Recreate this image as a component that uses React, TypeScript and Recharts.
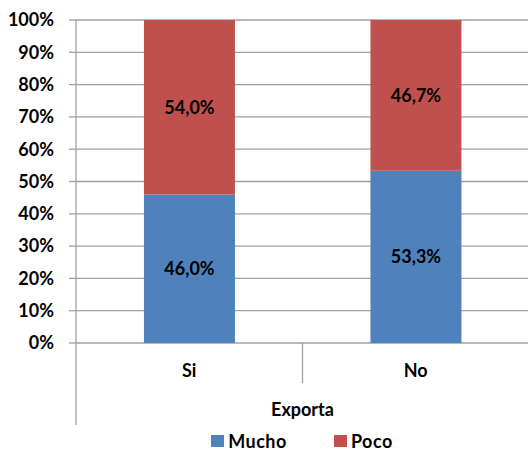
import React from 'react';
import { BarChart, Bar, XAxis, YAxis, CartesianGrid, LabelList, Legend } from 'recharts';

const categories = ['Si', 'No'];
const mucho = [46.0, 53.3];
const poco = [54.0, 46.7];
const yTicks = [0, 10, 20, 30, 40, 50, 60, 70, 80, 90, 100];
const seriesNames = ['Mucho', 'Poco'];
const colors = ['#4F81BD', '#C0504D'];

const data = categories.map((c, i) => ({ name: c, Mucho: mucho[i], Poco: poco[i] }));

const FONT = 'Lato, "Open Sans", sans-serif';
const FS = 18;
const AXIS = '#A0A0A0';

const fmt = (v: number) => v.toFixed(1).replace('.', ',') + '%';

const XTick = (props: any) => {
  const { x, y, payload, index } = props;
  const off = payload.offset || 0;
  const top = y - 8;
  return (
    <g>
      {index === 0 && (
        <line x1={x - off} x2={x - off} y1={top} y2={top + 82} stroke={AXIS} strokeWidth={1.3} />
      )}
      {index < categories.length - 1 && (
        <line x1={x + off} x2={x + off} y1={top} y2={top + 40} stroke={AXIS} strokeWidth={1.3} />
      )}
      <text x={x} y={top + 34} textAnchor="middle" fontFamily={FONT} fontWeight={700} fontSize={FS} fill="#000">
        {payload.value}
      </text>
    </g>
  );
};

const LegendContent = (props: any) => {
  const { payload } = props;
  return (
    <div style={{ display: 'flex', justifyContent: 'center', fontFamily: FONT, fontWeight: 700, fontSize: FS, lineHeight: '16px', paddingTop: 7, paddingLeft: 75, boxSizing: 'border-box', height: 24 }}>
      {payload.map((p: any, i: number) => (
        <div key={p.value} style={{ display: 'flex', alignItems: 'center', marginRight: i === 0 ? 47 : 0 }}>
          <span style={{ display: 'inline-block', width: 13, height: 12, background: p.color, marginRight: 4 }} />
          <span style={{ letterSpacing: 0.5 }}>{p.value}</span>
        </div>
      ))}
    </div>
  );
};

export default function App() {
  return (
    <div style={{ position: 'absolute', left: 0, top: 0, width: 528, height: 450, overflow: 'hidden', background: '#fff' }}>
      <BarChart
        width={530}
        height={450}
        data={data}
        margin={{ top: 20, right: 1, left: 0, bottom: 0 }}
        barCategoryGap="30%"
      >
        <CartesianGrid horizontal vertical={false} stroke={AXIS} strokeWidth={1.3} />
        <YAxis
          width={76}
          domain={[0, 100]}
          ticks={yTicks}
          interval={0}
          tickFormatter={(v: number) => `${v}%`}
          tick={{ fontFamily: FONT, fontWeight: 700, fontSize: FS, fill: '#000' }}
          tickSize={7}
          tickMargin={15}
          axisLine={{ stroke: AXIS, strokeWidth: 1.3 }}
          tickLine={{ stroke: AXIS, strokeWidth: 1.3 }}
        />
        <XAxis
          dataKey="name"
          height={82}
          axisLine={false}
          tickLine={false}
          tick={<XTick />}
          interval={0}
          label={{ value: 'Exporta', position: 'insideBottom', offset: 9, style: { fontFamily: FONT, fontWeight: 700, fontSize: FS, fill: '#000' } }}
        />
        <Legend verticalAlign="bottom" height={25} wrapperStyle={{ height: 25 }} content={<LegendContent />} />
        {seriesNames.map((s, i) => (
          <Bar key={s} dataKey={s} stackId="a" fill={colors[i]} isAnimationActive={false}>
            <LabelList
              dataKey={s}
              position="center"
              formatter={(v: any) => fmt(Number(v))}
              style={{ fontFamily: FONT, fontWeight: 700, fontSize: FS, fill: '#000' }}
            />
          </Bar>
        ))}
      </BarChart>
    </div>
  );
}
